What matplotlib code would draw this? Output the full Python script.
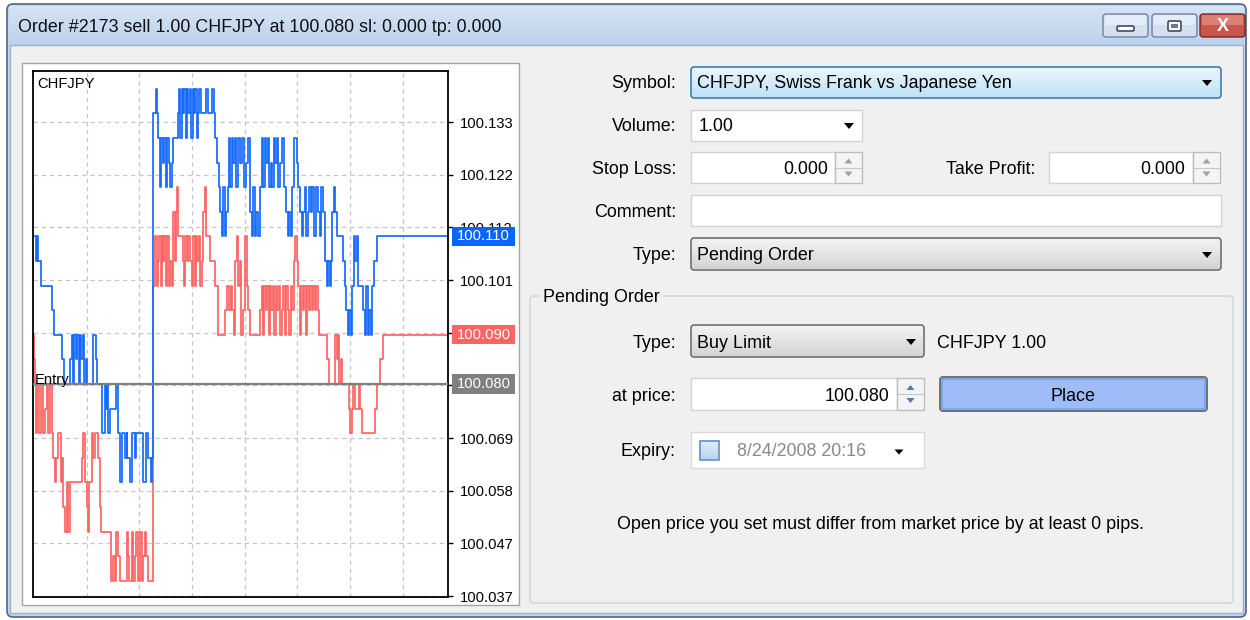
import matplotlib
matplotlib.use("Agg")
import matplotlib.pyplot as plt
import numpy as np
from matplotlib.patches import Rectangle, FancyBboxPatch, Polygon
import matplotlib.transforms as mtransforms

# ---------------- data ----------------
symbol = "CHFJPY"
entry_price = 100.080
title = "Order #2173 sell 1.00 CHFJPY at 100.080 sl: 0.000 tp: 0.000"

# tick times (arbitrary units) and prices for the ask (blue) line
ask_time = [33, 36, 37.5, 38.5, 41, 52.3, 54, 62.3, 64.3, 70, 71.5, 73, 74, 75.5, 77, 78.5, 79.5, 81, 82.5, 84,
            85.5, 87, 93, 95.5, 97, 102, 104.5, 105.5, 107, 108, 110, 116, 117.5, 120, 122.3, 125, 126.5, 127.3,
            130, 131.7, 135, 136, 143.3, 145.7, 148.3, 150.7, 152, 153, 155.5, 156.7, 158, 159.5, 161, 162.5,
            164, 165.5, 167, 168.5, 170, 171.5, 173, 178, 179, 180, 181.5, 183, 184, 185.5, 187, 188, 189.5,
            191, 192.5, 193.5, 195, 196.5, 198, 199, 200.5, 206, 208, 212, 213.5, 215, 217, 218.5, 220, 221.5,
            223, 224.5, 226, 227.5, 228.5, 230, 231.5, 233, 234.5, 236, 238, 240, 242, 244, 246, 248, 250,
            251.5, 253, 254.5, 256, 258, 260, 261.5, 263, 264.5, 266, 267.5, 269, 270.5, 272, 273.5, 275,
            276.5, 278, 280, 282, 283.5, 286, 287.5, 289, 290.5, 292, 293.5, 296.5, 298, 300, 301.5, 303,
            304.5, 306, 307.5, 309, 310.5, 312, 314, 316, 318, 319.5, 321, 323, 325, 326.5, 328, 329.5, 331,
            332, 333.5, 335, 337, 343, 344.5, 346, 347.5, 349, 350.5, 352, 353.5, 355, 356.5, 358, 363, 364.5,
            366, 367.5, 369, 370.5, 372, 374, 377]
ask_price = [100.110, 100.105, 100.110, 100.105, 100.100, 100.095, 100.090, 100.085, 100.080, 100.085,
             100.090, 100.080, 100.090, 100.085, 100.090, 100.080, 100.090, 100.085, 100.090, 100.080,
             100.085, 100.080, 100.090, 100.085, 100.080, 100.070, 100.080, 100.075, 100.080, 100.070,
             100.075, 100.080, 100.070, 100.060, 100.070, 100.065, 100.070, 100.065, 100.060, 100.070,
             100.065, 100.070, 100.060, 100.070, 100.065, 100.060, 100.065, 100.135, 100.140, 100.135,
             100.130, 100.120, 100.130, 100.125, 100.130, 100.120, 100.130, 100.125, 100.120, 100.125,
             100.130, 100.135, 100.140, 100.130, 100.140, 100.135, 100.140, 100.130, 100.140, 100.135,
             100.140, 100.130, 100.140, 100.135, 100.140, 100.130, 100.135, 100.140, 100.135, 100.140,
             100.135, 100.140, 100.135, 100.130, 100.125, 100.120, 100.115, 100.110, 100.120, 100.110,
             100.115, 100.120, 100.130, 100.120, 100.130, 100.125, 100.130, 100.120, 100.130, 100.125,
             100.130, 100.120, 100.125, 100.130, 100.115, 100.110, 100.120, 100.110, 100.115, 100.110,
             100.120, 100.130, 100.120, 100.130, 100.125, 100.130, 100.120, 100.125, 100.120, 100.130,
             100.125, 100.130, 100.120, 100.125, 100.130, 100.120, 100.115, 100.110, 100.115, 100.110,
             100.120, 100.130, 100.125, 100.120, 100.115, 100.110, 100.115, 100.120, 100.110, 100.115,
             100.120, 100.115, 100.120, 100.110, 100.120, 100.115, 100.110, 100.120, 100.115, 100.105,
             100.100, 100.105, 100.100, 100.105, 100.115, 100.120, 100.115, 100.110, 100.105, 100.100,
             100.095, 100.090, 100.095, 100.090, 100.100, 100.110, 100.105, 100.110, 100.100, 100.095,
             100.090, 100.100, 100.090, 100.095, 100.090, 100.100, 100.105, 100.110]

# tick times and prices for the bid (red) line
bid_time = [33, 34.5, 35.5, 36, 37.3, 39.3, 41, 42.7, 45, 46.7, 48.3, 50, 51.7, 53.3, 55, 56.5, 58.3, 60.7,
            62.3, 63.3, 65, 66.5, 68, 69.5, 82, 83.3, 85, 86.7, 88, 89.3, 91.7, 93, 95, 98.3, 100, 101, 111,
            113, 114.5, 116, 118.3, 120, 126.7, 128, 129.3, 131.7, 133.3, 134.5, 136, 137.5, 138.3, 140,
            141.5, 143.3, 145, 146, 148.3, 153.3, 155, 156.5, 158, 159, 160.5, 161.5, 163, 164, 165.5, 167,
            168.5, 170, 171.5, 173, 174.5, 175.5, 176.5, 178, 183, 184, 185, 186.5, 188, 190, 191.5, 193,
            194.5, 196, 197, 198.5, 200, 201.5, 203, 204.5, 205.5, 210, 215, 218.3, 225, 226.7, 229, 230.5,
            232, 233.5, 235, 236.5, 238, 239.5, 241, 243, 245, 246.5, 248, 250, 260, 261.5, 263, 264, 265.5,
            267, 268.5, 270, 271, 272.5, 274, 275.5, 277, 278.5, 280, 281.5, 283, 284.5, 286, 287.5, 289,
            290.5, 292, 293.5, 295, 296.5, 298, 299.5, 301, 302.5, 304, 305.5, 307, 308.5, 310, 311.5, 313,
            314.5, 316, 317.5, 318.5, 327, 328.5, 335, 336.5, 337.5, 339, 340.5, 342, 349, 350, 351.5, 352.7,
            355, 358.5, 359.5, 361.5, 375, 376.5, 380, 382.5]
bid_price = [100.090, 100.085, 100.080, 100.070, 100.080, 100.070, 100.080, 100.070, 100.075, 100.080,
             100.070, 100.080, 100.070, 100.065, 100.060, 100.065, 100.070, 100.060, 100.065, 100.055,
             100.050, 100.060, 100.050, 100.060, 100.065, 100.070, 100.060, 100.055, 100.050, 100.060,
             100.070, 100.065, 100.070, 100.065, 100.055, 100.050, 100.040, 100.045, 100.040, 100.050,
             100.045, 100.040, 100.050, 100.045, 100.040, 100.050, 100.040, 100.045, 100.050, 100.045,
             100.040, 100.050, 100.040, 100.045, 100.050, 100.045, 100.040, 100.100, 100.110, 100.100,
             100.105, 100.110, 100.100, 100.110, 100.105, 100.110, 100.100, 100.110, 100.100, 100.105,
             100.100, 100.115, 100.105, 100.115, 100.120, 100.110, 100.105, 100.100, 100.110, 100.105,
             100.110, 100.105, 100.100, 100.110, 100.100, 100.110, 100.105, 100.110, 100.100, 100.105,
             100.115, 100.120, 100.110, 100.105, 100.100, 100.090, 100.095, 100.100, 100.095, 100.100,
             100.095, 100.090, 100.105, 100.110, 100.100, 100.105, 100.090, 100.095, 100.110, 100.100,
             100.095, 100.090, 100.095, 100.100, 100.090, 100.100, 100.095, 100.100, 100.090, 100.100,
             100.095, 100.100, 100.090, 100.100, 100.095, 100.100, 100.090, 100.095, 100.100, 100.090,
             100.100, 100.095, 100.090, 100.100, 100.095, 100.105, 100.110, 100.105, 100.100, 100.090,
             100.100, 100.095, 100.100, 100.090, 100.100, 100.095, 100.100, 100.095, 100.100, 100.095,
             100.100, 100.095, 100.090, 100.085, 100.080, 100.090, 100.085, 100.090, 100.080, 100.085,
             100.080, 100.075, 100.070, 100.075, 100.080, 100.075, 100.080, 100.075, 100.070, 100.075,
             100.080, 100.085, 100.090]

chart_end_time = 448
chart_start_time = 33
grid_times = [86.7, 139.3, 192.0, 244.5, 297.3, 350.0, 402.5]
ytick_prices = [100.0369, 100.0476, 100.0583, 100.0690, 100.0797, 100.0904, 100.1011, 100.1118, 100.1225, 100.1332]
# labels at 100.080 / 100.090 are hidden under the price markers in the original
ytick_labels = ["100.037", "100.047", "100.058", "100.069", "", "",
                "100.101", "100.112", "100.122", "100.133"]
y_limits = (100.0367, 100.1436)

FONT = "Liberation Sans"
plt.rcParams['font.family'] = [FONT, 'DejaVu Sans']
UI = 12.9

fig = plt.figure(figsize=(12.5, 6.2), dpi=100)
fig.patch.set_facecolor('white')
bg = fig.add_axes([0, 0, 1, 1])
bg.axis('off')


def rect(x0, y0, x1, y1, fc, ec='none', lw=1.0, z=1, r=0):
    if r:
        p = FancyBboxPatch((x0, y0), x1 - x0, y1 - y0, boxstyle=f"round,pad=0,rounding_size={r}",
                           fc=fc, ec=ec, lw=lw, zorder=z)
    else:
        p = Rectangle((x0, y0), x1 - x0, y1 - y0, fc=fc, ec=ec, lw=lw, zorder=z)
    bg.add_patch(p)
    return p


def vgrad(x0, y0, x1, y1, ctop, cbot, z=1):
    c0 = np.array(matplotlib.colors.to_rgb(ctop))
    c1 = np.array(matplotlib.colors.to_rgb(cbot))
    f = np.linspace(0, 1, 64)[:, None, None]
    img = c0 * (1 - f) + c1 * f
    bg.imshow(img, extent=[x0, x1, y1, y0], origin='upper', aspect='auto',
              interpolation='bilinear', zorder=z)


def txt(x, y, s, ha='left', size=UI, color='#000000', z=5, **kw):
    return bg.text(x, y + 1.5, s, ha=ha, va='center', fontsize=size, color=color, zorder=z, **kw)


def arrow_down(cx, cy, w=10, h=6, color='#000000', z=6):
    bg.add_patch(Polygon([(cx - w / 2, cy - h / 2), (cx + w / 2, cy - h / 2), (cx, cy + h / 2)],
                         closed=True, fc=color, ec='none', zorder=z))


def spinner(x0, y0, x1, y1, color='#A0A0A0'):
    rect(x0, y0, x1, y1, '#F4F4F4', '#BDBDBD', 1, z=4)
    ym = (y0 + y1) / 2
    bg.plot([x0 + 1, x1 - 1], [ym, ym], color='#C8C8C8', lw=0.8, zorder=5)
    cx = (x0 + x1) / 2
    bg.add_patch(Polygon([(cx - 4, ym - 4), (cx + 4, ym - 4), (cx, ym - 9)], fc=color, ec='none', zorder=6))
    bg.add_patch(Polygon([(cx - 4, ym + 4), (cx + 4, ym + 4), (cx, ym + 9)], fc=color, ec='none', zorder=6))


# ---------------- window frame ----------------
rect(7, 4, 1246, 617, '#C3D5EC', '#4E6688', 1.2, z=0, r=6)
vgrad(9, 6, 1244, 46, '#D6E4F5', '#BCD1EB', z=0.5)
rect(10, 45, 1243, 613, '#F0F0F0', '#9CB0CB', 1.0, z=0.6)
txt(18, 26, title, size=UI, color='#111111')

# caption buttons
for (x0, x1) in [(1103, 1148), (1152, 1197)]:
    rect(x0, 14, x1, 37, '#D3E0F0', '#6D84A5', 1.0, z=2, r=3)
rect(1105, 15, 1146, 25, '#E3ECF7', 'none', z=2.1)
rect(1154, 15, 1195, 25, '#E3ECF7', 'none', z=2.1)
rect(1117, 26, 1134, 31, '#FFFFFF', '#3D4C66', 1.2, z=3, r=1.5)
rect(1168, 21, 1181, 31, '#FFFFFF', '#3D4C66', 1.2, z=3, r=1.5)
rect(1171, 24, 1178, 28, '#6D7A92', 'none', z=3.1)
rect(1200, 14, 1245, 37, '#C9564A', '#7A2A22', 1.0, z=2, r=3)
rect(1202, 15, 1243, 25, '#DB8076', 'none', z=2.1)
bg.text(1222.5, 26.5, 'X', ha='center', va='center', fontsize=13, fontweight='bold', color='white', zorder=4)

# ---------------- chart panel ----------------
rect(22, 63, 519, 605, '#FFFFFF', '#A5A5A5', 1.0, z=1)

ax = fig.add_axes([33 / 1250, 1 - 597 / 620, 415 / 1250, 526 / 620])
ax.set_zorder(3)
ax.set_facecolor('white')
ax.set_xlim(chart_start_time, chart_end_time)
ax.set_ylim(*y_limits)
for sp in ax.spines.values():
    sp.set_color('#000000')
    sp.set_linewidth(1.3)
ax.yaxis.tick_right()
ax.set_yticks(ytick_prices)
ax.set_yticklabels(ytick_labels)
ax.set_xticks(grid_times)
ax.set_xticklabels([])
ax.tick_params(axis='x', length=0)
ax.tick_params(axis='y', direction='out', length=3.5, width=1, colors='#000000', pad=5, labelsize=10.6)
ax.grid(True, color='#C4C4C4', linestyle=(0, (3.5, 3)), linewidth=0.9)
ax.set_axisbelow(True)

bt = list(bid_time) + [chart_end_time]
bp = list(bid_price) + [bid_price[-1]]
at = list(ask_time) + [chart_end_time]
ap = list(ask_price) + [ask_price[-1]]
ax.step(bt, bp, where='post', color='#FF6464', lw=1.25, zorder=2)
ax.step(at, ap, where='post', color='#166AFF', lw=1.25, zorder=2.5)
ax.axhline(entry_price, color='#7F7F7F', lw=1.6, zorder=3)

ax.text(0.011, 0.988, symbol, transform=ax.transAxes, ha='left', va='top', fontsize=10.6, color='#000000', zorder=5)
ax.text(0.005, entry_price, 'Entry', transform=mtransforms.blended_transform_factory(ax.transAxes, ax.transData),
        ha='left', va='baseline', fontsize=10.6, color='#000000', zorder=5)

bl = mtransforms.blended_transform_factory(ax.transAxes, ax.transData)
h = 0.0039
for price, col in [(ask_price[-1], '#0A64FF'), (bid_price[-1], '#FF6464'), (entry_price, '#808080')]:
    ax.add_patch(Rectangle((1.0096, price - h / 2), 0.152, h, transform=bl, fc=col, ec='none',
                           clip_on=False, zorder=6))
    ax.text(1.0855, price, f"{price:.3f}", transform=bl, ha='center', va='center', fontsize=10.6,
            color='white', zorder=7, clip_on=False)

# ---------------- order controls ----------------
LX = 676
txt(LX, 82, "Symbol:", ha='right')
txt(LX, 125, "Volume:", ha='right')
txt(LX, 168, "Stop Loss:", ha='right')
txt(1035, 168, "Take Profit:", ha='right')
txt(LX, 211, "Comment:", ha='right')
txt(LX, 254, "Type:", ha='right')

# Symbol combo (focused, light blue)
rect(691, 67, 1221, 98, 'none', '#3C7FB1', 1.2, z=3, r=3)
vgrad(692, 68, 1220, 97, '#EAF6FD', '#BEE3F8', z=2)
txt(697, 82, "CHFJPY, Swiss Frank vs Japanese Yen")
arrow_down(1207, 83)

# Volume combo
rect(691, 110, 862, 141, '#FFFFFF', '#D2D2D2', 1.0, z=2)
txt(699, 125, "1.00")
arrow_down(849, 126)

# Stop loss / take profit
rect(691, 152, 835, 183, '#FFFFFF', '#D2D2D2', 1.0, z=2)
spinner(835, 152, 862, 183)
txt(828, 168, "0.000", ha='right')
rect(1049, 152, 1193, 183, '#FFFFFF', '#D2D2D2', 1.0, z=2)
spinner(1193, 152, 1220, 183)
txt(1185, 168, "0.000", ha='right')

# Comment
rect(691, 195, 1221, 226, '#FFFFFF', '#D2D2D2', 1.0, z=2)

# Type combo (gray)
rect(691, 238, 1221, 270, 'none', '#707070', 1.2, z=3, r=3)
vgrad(692, 239, 1220, 269, '#F3F3F3', '#D4D4D4', z=2)
txt(697, 254, "Pending Order")
arrow_down(1207, 255)

# Pending order group
rect(530, 296, 1233, 603, 'none', '#D0DAE2', 1.2, z=1.5, r=4)
t = txt(543, 296, "Pending Order")
t.set_bbox(dict(fc='#F0F0F0', ec='none', pad=2))

txt(LX, 342, "Type:", ha='right')
rect(691, 325, 924, 357, 'none', '#707070', 1.2, z=3, r=3)
vgrad(692, 326, 923, 356, '#F3F3F3', '#D4D4D4', z=2)
txt(697, 342, "Buy Limit")
arrow_down(911, 342)
txt(937, 342, "CHFJPY 1.00")

txt(LX, 395, "at price:", ha='right')
rect(691, 378, 897, 410, '#FFFFFF', '#D2D2D2', 1.0, z=2)
spinner(897, 378, 924, 410, color='#4A7CC0')
txt(889, 395, "100.080", ha='right')

rect(940, 377, 1207, 411, '#9DBCF8', '#707070', 1.4, z=2, r=3)
rect(942, 379, 1205, 409, 'none', '#6E9CF0', 1.0, z=2.2, r=2)
txt(1073, 395, "Place", ha='center')

txt(LX, 450, "Expiry:", ha='right')
rect(691, 432, 924, 468, '#FFFFFF', '#DADADA', 1.0, z=2)
rect(700, 441, 719, 460, 'none', '#5B8FC4', 1.2, z=3)
vgrad(701, 442, 718, 459, '#E0EDF8', '#B9D4EE', z=2.5)
clipbox = Rectangle((730, 433), 140, 34, transform=bg.transData, fc='none', ec='none')
e = txt(737, 450, "8/24/2008 20:16", color='#8A8A8A')
e.set_clip_path(clipbox)
arrow_down(899, 452, w=9, h=5)

txt(617, 523, "Open price you set must differ from market price by at least 0 pips.")

bg.set_xlim(0, 1250)
bg.set_ylim(620, 0)

fig.savefig("out.png", dpi=100, facecolor='white')
